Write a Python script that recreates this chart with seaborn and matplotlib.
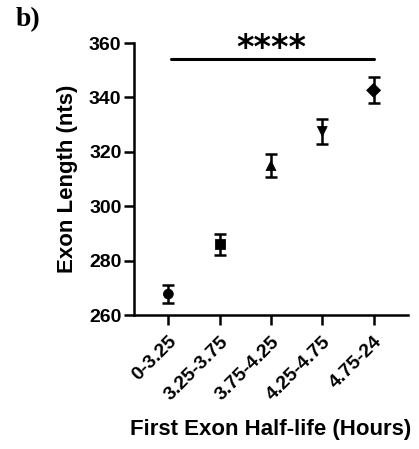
import matplotlib
matplotlib.use("Agg")
import matplotlib.pyplot as plt
import seaborn as sns
import pandas as pd
import numpy as np

categories = ["0-3.25", "3.25-3.75", "3.75-4.25", "4.25-4.75", "4.75-24"]
means = [267.7, 286.0, 314.9, 327.5, 342.6]
errors = [3.2, 3.8, 4.2, 4.5, 4.8]
marker_shapes = ["o", "s", "^", "v", "D"]
yticks = [260, 280, 300, 320, 340, 360]

df = pd.DataFrame({"cat": categories, "mean": means, "err": errors})

sns.set_style("ticks")
plt.rcParams["font.family"] = ["Liberation Sans", "DejaVu Sans"]
plt.rcParams["font.weight"] = "bold"
plt.rcParams["text.color"] = "black"
plt.rcParams["axes.labelcolor"] = "black"
plt.rcParams["xtick.color"] = "black"
plt.rcParams["ytick.color"] = "black"
plt.rcParams["axes.edgecolor"] = "black"

fig = plt.figure(figsize=(4.19, 4.49), dpi=100)
ax = fig.add_axes([0.3198, 0.2984, 0.9737 - 0.3198, 0.9042 - 0.2984])

sns.scatterplot(data=df, x="cat", y="mean", style="cat", markers=marker_shapes,
                color="black", s=50, edgecolor="black", legend=False, ax=ax, zorder=3)
ax.errorbar(np.arange(len(categories)), means, yerr=errors, fmt="none",
            ecolor="black", elinewidth=1.8, capsize=4.5, capthick=1.8, zorder=2)

ax.set_xlim(-0.67, 4.67)
ax.set_ylim(260, 360)
ax.set_yticks(yticks)
ax.set_xticks(range(len(categories)))
ax.set_xticklabels(categories, rotation=45, ha="right", rotation_mode="anchor",
                   fontsize=14, fontweight="bold")
ax.tick_params(axis="y", labelsize=14, width=1.8, length=7, pad=2)
ax.tick_params(axis="x", width=1.8, length=7, pad=6)
for lab in ax.get_yticklabels():
    lab.set_fontweight("bold")

sns.despine(ax=ax)
ax.spines["left"].set_linewidth(1.8)
ax.spines["bottom"].set_linewidth(1.8)

ax.set_ylabel("Exon Length (nts)", fontsize=16, fontweight="bold", labelpad=8)
ax.set_xlabel("First Exon Half-life (Hours)", fontsize=16, fontweight="bold", labelpad=11)

# significance bar
ax.plot([0.05, 4.0], [354.3, 354.3], color="black", lw=2.2, clip_on=False)
ax.text(2.0, 354.4, "****", ha="center", va="baseline", fontsize=24, fontweight="bold",
        family=["DejaVu Sans"])

fig.text(0.038, 0.985, "b)", fontsize=20, fontweight="bold",
         family=["Liberation Serif", "DejaVu Serif"], va="top", ha="left")

fig.savefig("out.png", dpi=100)
